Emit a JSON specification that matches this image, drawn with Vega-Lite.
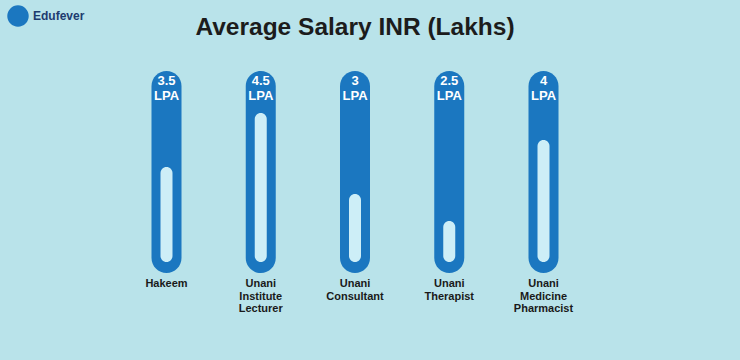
{
  "$schema": "https://vega.github.io/schema/vega-lite/v6.json",
  "width": 740,
  "height": 360,
  "autosize": {"type": "fit", "contains": "padding"},
  "padding": 0,
  "background": "#b9e3ea",
  "config": {"view": {"stroke": null}, "font": "Liberation Sans"},
  "title": {
    "text": "Average Salary INR (Lakhs)",
    "anchor": "middle",
    "frame": "group",
    "offset": 0,
    "dy": 40,
    "dx": -15,
    "fontSize": 24.5,
    "fontWeight": "bold",
    "font": "Liberation Sans",
    "color": "#1c1c1c"
  },
  "data": {
    "values": [
      {"job": "Hakeem", "label": "Hakeem", "value": 3.5},
      {"job": "Unani Institute Lecturer", "label": "Unani\nInstitute\nLecturer", "value": 4.5},
      {"job": "Unani Consultant", "label": "Unani\nConsultant", "value": 3},
      {"job": "Unani Therapist", "label": "Unani\nTherapist", "value": 2.5},
      {"job": "Unani Medicine Pharmacist", "label": "Unani\nMedicine\nPharmacist", "value": 4}
    ]
  },
  "encoding": {
    "x": {
      "field": "job",
      "type": "nominal",
      "sort": null,
      "axis": null,
      "scale": {"type": "point", "range": [166.5, 543.5], "padding": 0}
    }
  },
  "layer": [
    {
      "mark": {"type": "bar", "width": 30, "cornerRadius": 15},
      "encoding": {
        "y": {"datum": 5.28, "type": "quantitative", "axis": null, "scale": {"domain": [-0.074, 6.593]}},
        "y2": {"datum": 1.537},
        "color": {
          "datum": "Edufever",
          "type": "nominal",
          "scale": {"domain": ["Edufever"], "range": ["#1b77c0"]},
          "legend": {
            "orient": "none",
            "legendX": 7,
            "legendY": 5,
            "title": null,
            "symbolType": "circle",
            "symbolSize": 460,
            "symbolStrokeWidth": 0,
            "labelFontSize": 12,
            "labelFont": "Liberation Sans",
            "labelFontWeight": "bold",
            "labelColor": "#1d3b6f",
            "labelOffset": 4
          }
        }
      }
    },
    {
      "mark": {"type": "bar", "width": 12, "cornerRadius": 6, "color": "#cdeef7"},
      "encoding": {
        "y": {"field": "value", "type": "quantitative", "axis": null, "scale": {"domain": [-0.074, 6.593]}},
        "y2": {"datum": 1.74}
      }
    },
    {
      "mark": {"type": "text", "color": "white", "fontSize": 13, "fontWeight": "bold", "baseline": "middle", "font": "Liberation Sans"},
      "encoding": {
        "y": {"datum": 5.09, "type": "quantitative", "scale": {"domain": [-0.074, 6.593]}},
        "text": {"field": "value", "type": "quantitative"}
      }
    },
    {
      "mark": {"type": "text", "color": "white", "fontSize": 13, "fontWeight": "bold", "baseline": "middle", "font": "Liberation Sans", "text": "LPA"},
      "encoding": {
        "y": {"datum": 4.815, "type": "quantitative", "scale": {"domain": [-0.074, 6.593]}}
      }
    },
    {
      "mark": {"type": "text", "color": "#1a1a1a", "fontSize": 11, "fontWeight": "bold", "baseline": "top", "lineBreak": "\n", "lineHeight": 12.5, "font": "Liberation Sans"},
      "encoding": {
        "y": {"datum": 1.444, "type": "quantitative", "scale": {"domain": [-0.074, 6.593]}},
        "text": {"field": "label"}
      }
    }
  ]
}
